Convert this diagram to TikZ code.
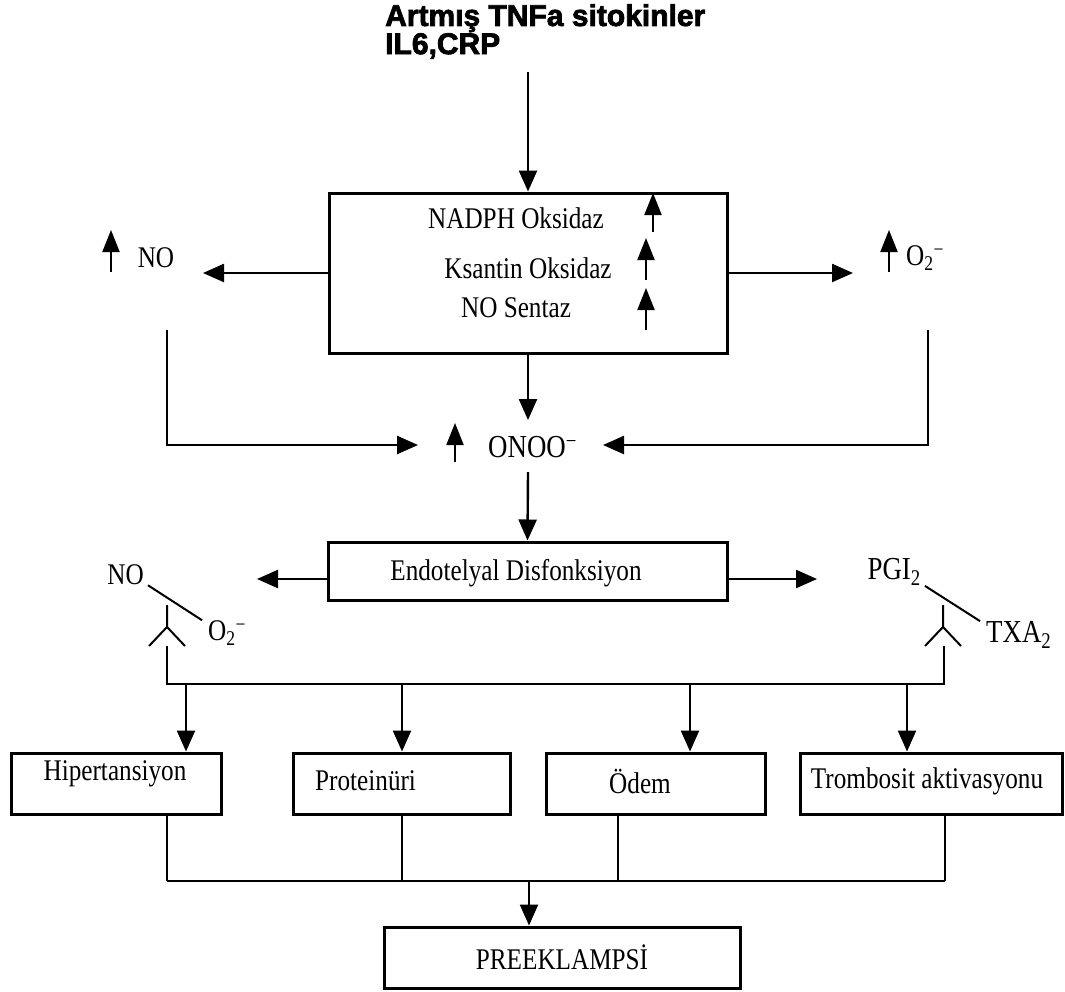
\documentclass[tikz,border=0pt]{standalone}
\usepackage{fontspec}
\setmainfont{Liberation Serif}[FakeStretch=0.84]
\newfontfamily\baslikfont{Liberation Sans}[BoldFeatures={FakeBold=2.5}]
\usetikzlibrary{arrows.meta}
\tikzset{
  >={Triangle[length=21pt,width=18pt]},
  every picture/.style={line join=miter},
  baslik/.style={font=\baslikfont\bfseries\fontsize{30}{24}\selectfont, align=left, inner sep=0pt},
  yazi/.style={font=\fontsize{30}{32}\selectfont, inner sep=0pt},
  buyukyazi/.style={yazi, font=\fontsize{32}{32}\selectfont},
  kutu/.style={draw, line width=3pt, inner sep=0pt},
  cizgi/.style={line width=2.2pt},
  ince/.style={line width=2pt},
  ok/.style={line width=2.4pt, ->},
  yukari/.style={line width=2pt, -{Triangle[length=22pt,width=17pt]}},
}
\begin{document}
\begin{tikzpicture}[x=1pt, y=-1pt]
\useasboundingbox (0,0) rectangle (1065,991);
% baslik
\node[baslik, anchor=north west] (baslik) at (385,4) {Artmış TNFa sitokinler\\IL6,CRP};
% enzim kutusu
\node[kutu, minimum width=398pt, minimum height=160pt] (enzim) at (528,273) {};
\node[yazi] (nadph) at (516,218) {NADPH Oksidaz};
\node[yazi] (ksantin) at (528,268) {Ksantin Oksidaz};
\node[yazi] (sentaz) at (516,308) {NO Sentaz};
% yan urunler
\node[yazi] (no1) at (156,258) {NO};
\node[yazi, anchor=west] (o2a) at (906,258) {O\textsubscript{2}\textsuperscript{−}};
\node[buyukyazi, anchor=west] (onoo) at (488,447) {ONOO\textsuperscript{−}};
% artis oklari
\foreach \x/\a/\b in {653/232/193, 646/280/238, 646/330/288, 111/272/230, 889/272/230, 455/462/423}
  \draw[yukari] (\x,\a) -- (\x,\b);
\coordinate (ust) at (528,72);
\coordinate (nouc) at (203,273);
\coordinate (o2uc) at (853,273);
\coordinate (onooust) at (528,420);
\coordinate (onooalt) at (528,472);
\coordinate (soluc) at (418,445);
\coordinate (saguc) at (603,445);
\draw[ok] (ust) -- (enzim.north);
\draw[ok] (enzim.west) -- (nouc);
\draw[ok] (enzim.east) -- (o2uc);
\draw[ok] (enzim.south) -- (onooust);
\draw[ok] (167,330) -- (167,445) -- (soluc);
\draw[ok] (928,330) -- (928,445) -- (saguc);
% endotel
\node[kutu, minimum width=399pt, minimum height=58pt] (endotel) at (527.5,571) {};
\node[yazi] (endotelyazi) at (516,573) {Endotelyal Disfonksiyon};
\coordinate (sol2uc) at (257,579);
\coordinate (sag2uc) at (817,579);
\draw[ok] (onooalt) -- (endotel.north);
\draw[ok] ([yshift=-8pt]endotel.west) -- (sol2uc);
\draw[ok] ([yshift=-8pt]endotel.east) -- (sag2uc);
% denge bozulmasi
\node[yazi, anchor=east] (no2) at (144,575) {NO};
\node[yazi, anchor=west] (o2b) at (208,633) {O\textsubscript{2}\textsuperscript{−}};
\node[buyukyazi, anchor=east] (pgi) at (921,572) {PGI\textsubscript{2}};
\node[buyukyazi, anchor=west] (txa) at (986,635) {TXA\textsubscript{2}};
\draw[ince] ([xshift=4pt]no2.south east) -- ([xshift=-6pt]o2b.north west);
\draw[ince] ([xshift=4pt]pgi.south east) -- ([xshift=-6pt]txa.north west);
\foreach \x in {167,943}
  \draw[ince] (\x,605) -- (\x,627) -- (\x-18,646) (\x,627) -- (\x+18,646);
\draw[cizgi] (167,646) -- (167,684) -- (944,684) -- (944,646);
% sonuclar
\node[kutu, minimum width=210pt, minimum height=61pt] (hiper) at (116,783.5) {};
\node[kutu, minimum width=217pt, minimum height=61pt] (prot) at (401.5,783.5) {};
\node[kutu, minimum width=219pt, minimum height=61pt] (odem) at (655.5,783.5) {};
\node[kutu, minimum width=262pt, minimum height=61pt] (tromb) at (931,783.5) {};
\node[yazi] (hiperyazi) at (115,774) {Hipertansiyon};
\node[yazi, anchor=west] (protyazi) at (315,781) {Proteinüri};
\node[yazi] (odemyazi) at (640,781) {Ödem};
\node[yazi] (trombyazi) at (927,781) {Trombosit aktivasyonu};
\foreach \x/\k in {186/hiper, 402/prot, 690/odem, 907/tromb}
  \draw[ok] (\x,684) -- (\k.north -| \x,684);
\foreach \x/\k in {167/hiper, 402/prot, 618/odem, 945/tromb}
  \draw[cizgi] (\k.south -| \x,881) -- (\x,881);
\draw[cizgi] (167,881) -- (945,881);
% preeklampsi
\node[kutu, yazi, minimum width=356pt, minimum height=61pt, line width=3pt] (preek) at (562,957.5) {PREEKLAMPSİ};
\draw[ok] (529,881) -- (preek.north -| 529,881);
\end{tikzpicture}
\end{document}
